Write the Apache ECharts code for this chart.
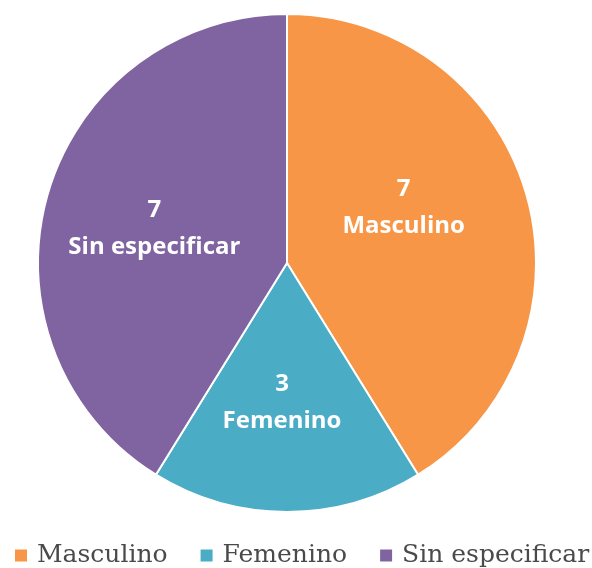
<!DOCTYPE html>
<html>
<head>
<meta charset="utf-8">
<script src="https://cdn.jsdelivr.net/npm/echarts@6/dist/echarts.min.js"></script>
<style>
  html, body { margin: 0; padding: 0; background: #ffffff; }
  #chart { width: 592px; height: 568px; }
</style>
</head>
<body>
<div id="chart"></div>
<script>
// datos del gráfico
const categories = ['Masculino', 'Femenino', 'Sin especificar']
const values = [7, 3, 7]
const colors = ['#F79646', '#4BACC6', '#8064A2']
// ajuste de etiquetas (como en Excel)
const labelOffsets = [[-6, -20], [-5, 12], [-10, 1]]

const chart = echarts.init(document.getElementById('chart'))
chart.setOption({
  backgroundColor: '#ffffff',
  animation: false,
  legend: {
    top: 543,
    left: 13,
    width: 579,
    padding: 0,
    icon: 'rect',
    itemWidth: 14,
    itemHeight: 14,
    itemGap: 31,
    textStyle: {
      fontFamily: 'DejaVu Serif',
      fontSize: 25,
      color: '#4a4a4a',
      padding: [0, 0, 0, 4]
    },
    data: categories
  },
  series: [
    {
      type: 'pie',
      center: [287, 263],
      radius: 249,
      startAngle: 90,
      clockwise: true,
      itemStyle: {
        borderColor: '#ffffff',
        borderWidth: 2
      },
      label: {
        show: true,
        position: 'inside',
        formatter: '{c}\n{b}',
        color: '#ffffff',
        fontFamily: 'Open Sans',
        fontWeight: 'bold',
        fontSize: 24,
        lineHeight: 37
      },
      labelLine: { show: false },
      emphasis: { disabled: true },
      data: categories.map((name, i) => ({
        name: name,
        value: values[i],
        itemStyle: { color: colors[i] },
        label: { offset: labelOffsets[i] }
      }))
    }
  ]
})
</script>
</body>
</html>
